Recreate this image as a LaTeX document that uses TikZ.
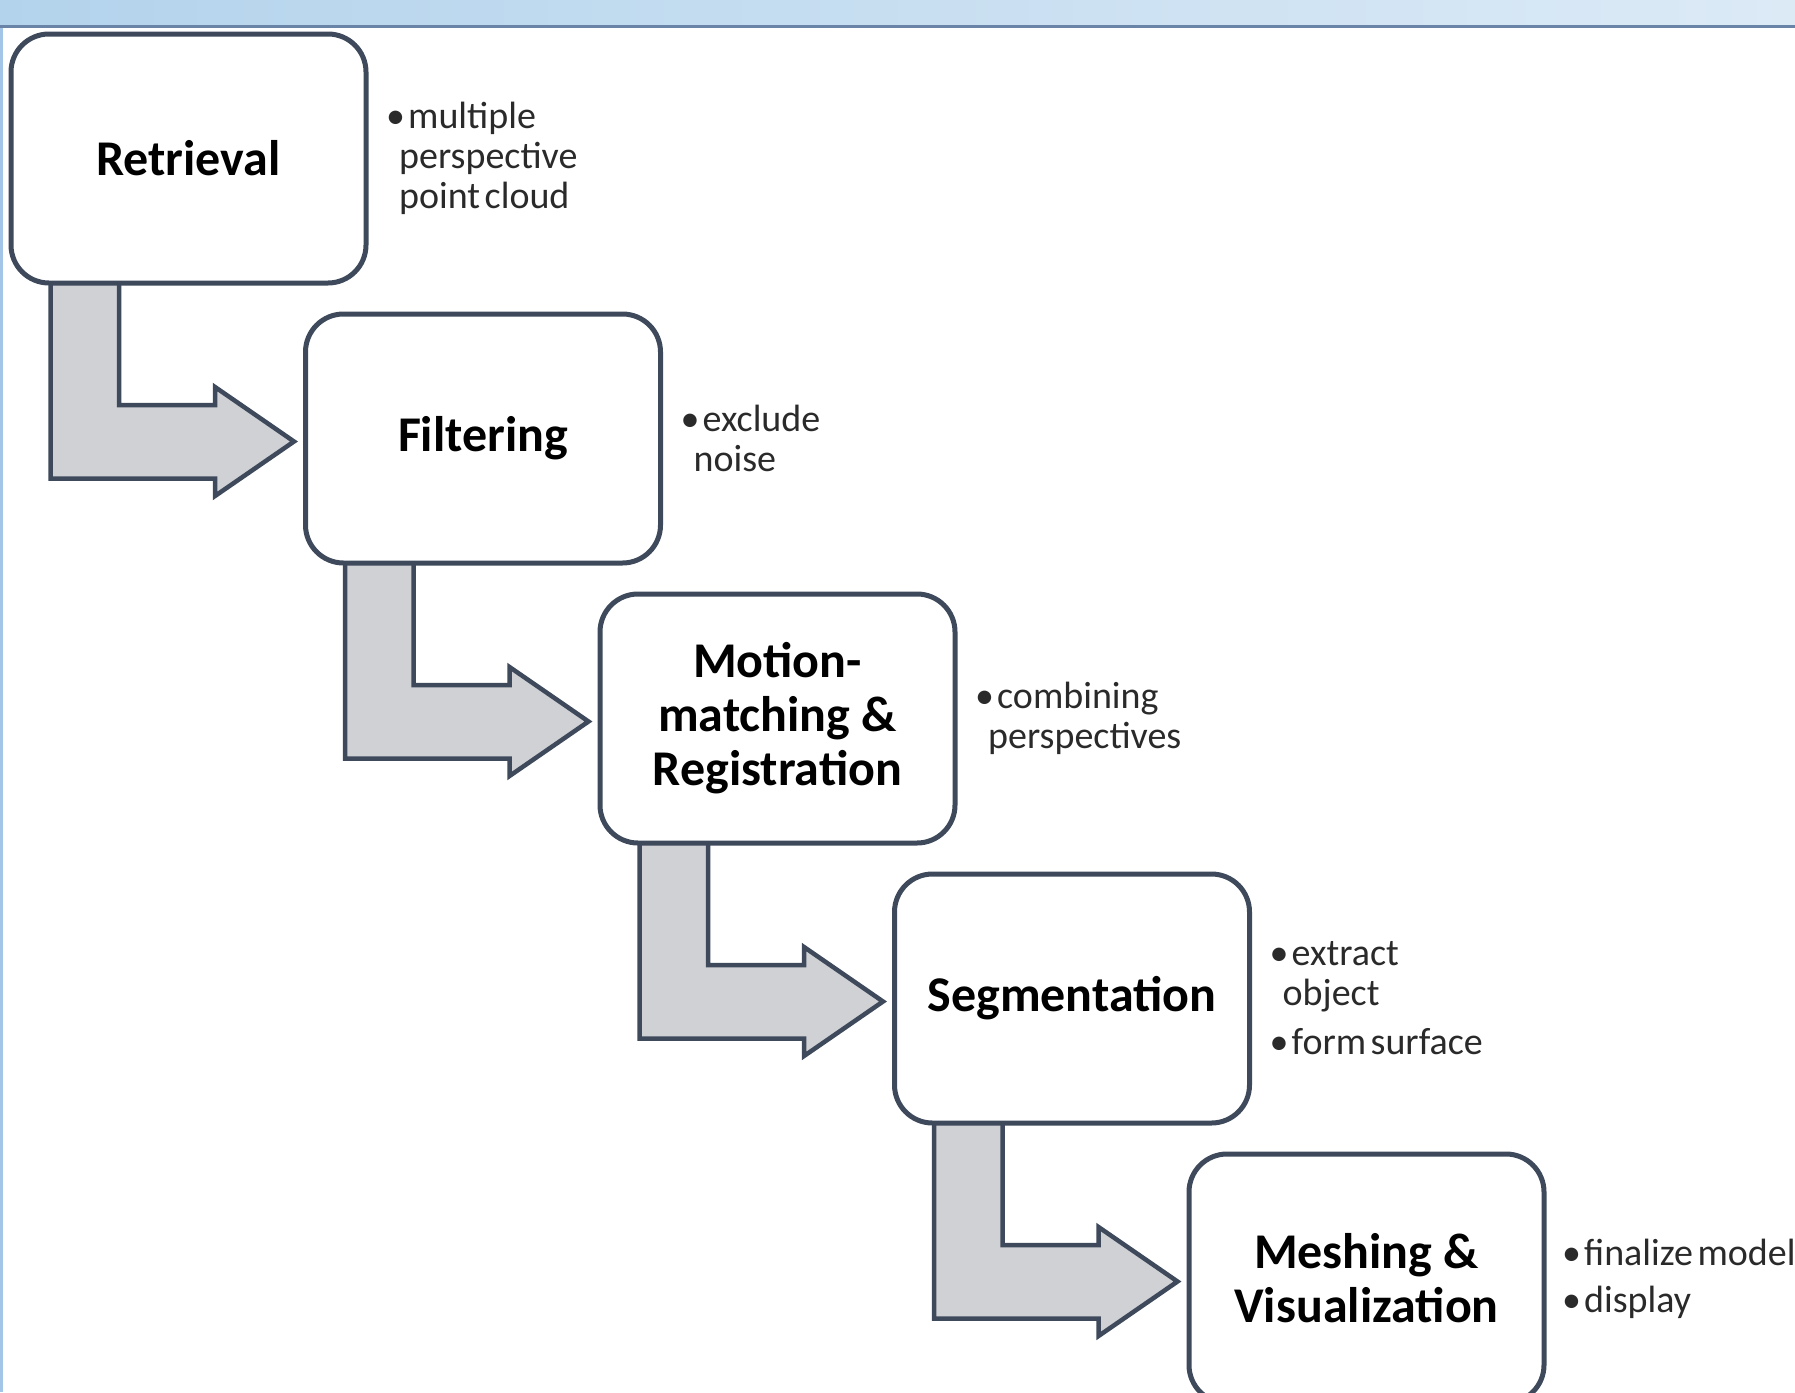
\documentclass[tikz,border=0pt]{standalone}
\usepackage{fontspec}
\setmainfont{Carlito}
\usetikzlibrary{calc}
\definecolor{edge}{HTML}{3E4A5B}
\definecolor{arrfill}{HTML}{D0D1D5}
\definecolor{barL}{HTML}{B3D3EC}
\definecolor{barR}{HTML}{DCEAF6}
\definecolor{barline}{HTML}{6A84A8}
\definecolor{leftb}{HTML}{A3C6E8}
\definecolor{notegray}{HTML}{2A2A2A}
\pgfdeclarelayer{background}
\pgfsetlayers{background,main}
\newcommand\bitem[1]{\makebox[22pt][l]{\textbullet}#1}
\newcommand\bcont[1]{\hspace*{13pt}#1}
\newcommand\tightspace{\spaceskip 0.12em\relax}
\begin{document}
\begin{tikzpicture}[x=1pt,y=-1pt,
  stage/.style={draw=edge, line width=5pt, fill=white, rounded corners=38pt,
    minimum width=355pt, minimum height=249pt, inner sep=0pt, outer sep=0pt,
    align=center, anchor=north west,
    font=\fontsize{50}{54}\selectfont\bfseries},
  note/.style={anchor=west, inner sep=0pt, align=left, text=notegray,
    font=\fontsize{38}{40}\selectfont\tightspace},
  bent/.style={draw=edge, fill=arrfill, line width=4.5pt, line join=miter, miter limit=10}]
\useasboundingbox (0,0) rectangle (1795,1392);
\clip (0,0) rectangle (1795,1392);
% window frame
\shade[left color=barL, right color=barR] (0,0) rectangle (1795,25);
\fill[barline] (0,25) rectangle (1795,27.5);
\fill[leftb] (0,27.5) rectangle (3,1392);
% stages
\node[stage] (s1) at (11,34) {Retrieval};
\node[stage] (s2) at (305.5,314) {Filtering};
\node[stage] (s3) at (600,594) {Motion-\\matching \&\\Registration};
\node[stage] (s4) at (894.5,874) {Segmentation};
\node[stage] (s5) at (1189,1154) {Meshing \&\\Visualization};
% notes
\node[note] (n1) at ($(s1.east)+(20,0)$) {\bitem{multiple}\\\bcont{perspective}\\\bcont{point cloud}};
\node[note] (n2) at ($(s2.east)+(20,0)$) {\bitem{exclude}\\\bcont{noise}};
\node[note] (n3) at ($(s3.east)+(20,0)$) {\bitem{combining}\\\bcont{perspectives}};
\node[note] (n4) at ($(s4.east)+(20,0)$) {\bitem{extract}\\\bcont{object}\\[9pt]\bitem{form surface}};
\node[note] (n5) at ($(s5.east)+(18,0)$) {\bitem{finalize model}\\[7pt]\bitem{display}};
% bent arrows
\begin{pgfonlayer}{background}
\foreach \a/\b in {s1/s2,s2/s3,s3/s4,s4/s5}{
  \filldraw[bent] let \p1=(\a.south west), \p2=(\b.north west) in
    (\x1+39.5pt,\y1+8pt) -- (\x1+39.5pt,\y2-164.5pt) -- (\x1+204pt,\y2-164.5pt)
    -- (\x1+204pt,\y2-182pt) -- (\x1+283pt,\y2-127.5pt) -- (\x1+204pt,\y2-73pt)
    -- (\x1+204pt,\y2-91pt) -- (\x1+108pt,\y2-91pt) -- (\x1+108pt,\y1+8pt) -- cycle;
}
\end{pgfonlayer}
\end{tikzpicture}
\end{document}
